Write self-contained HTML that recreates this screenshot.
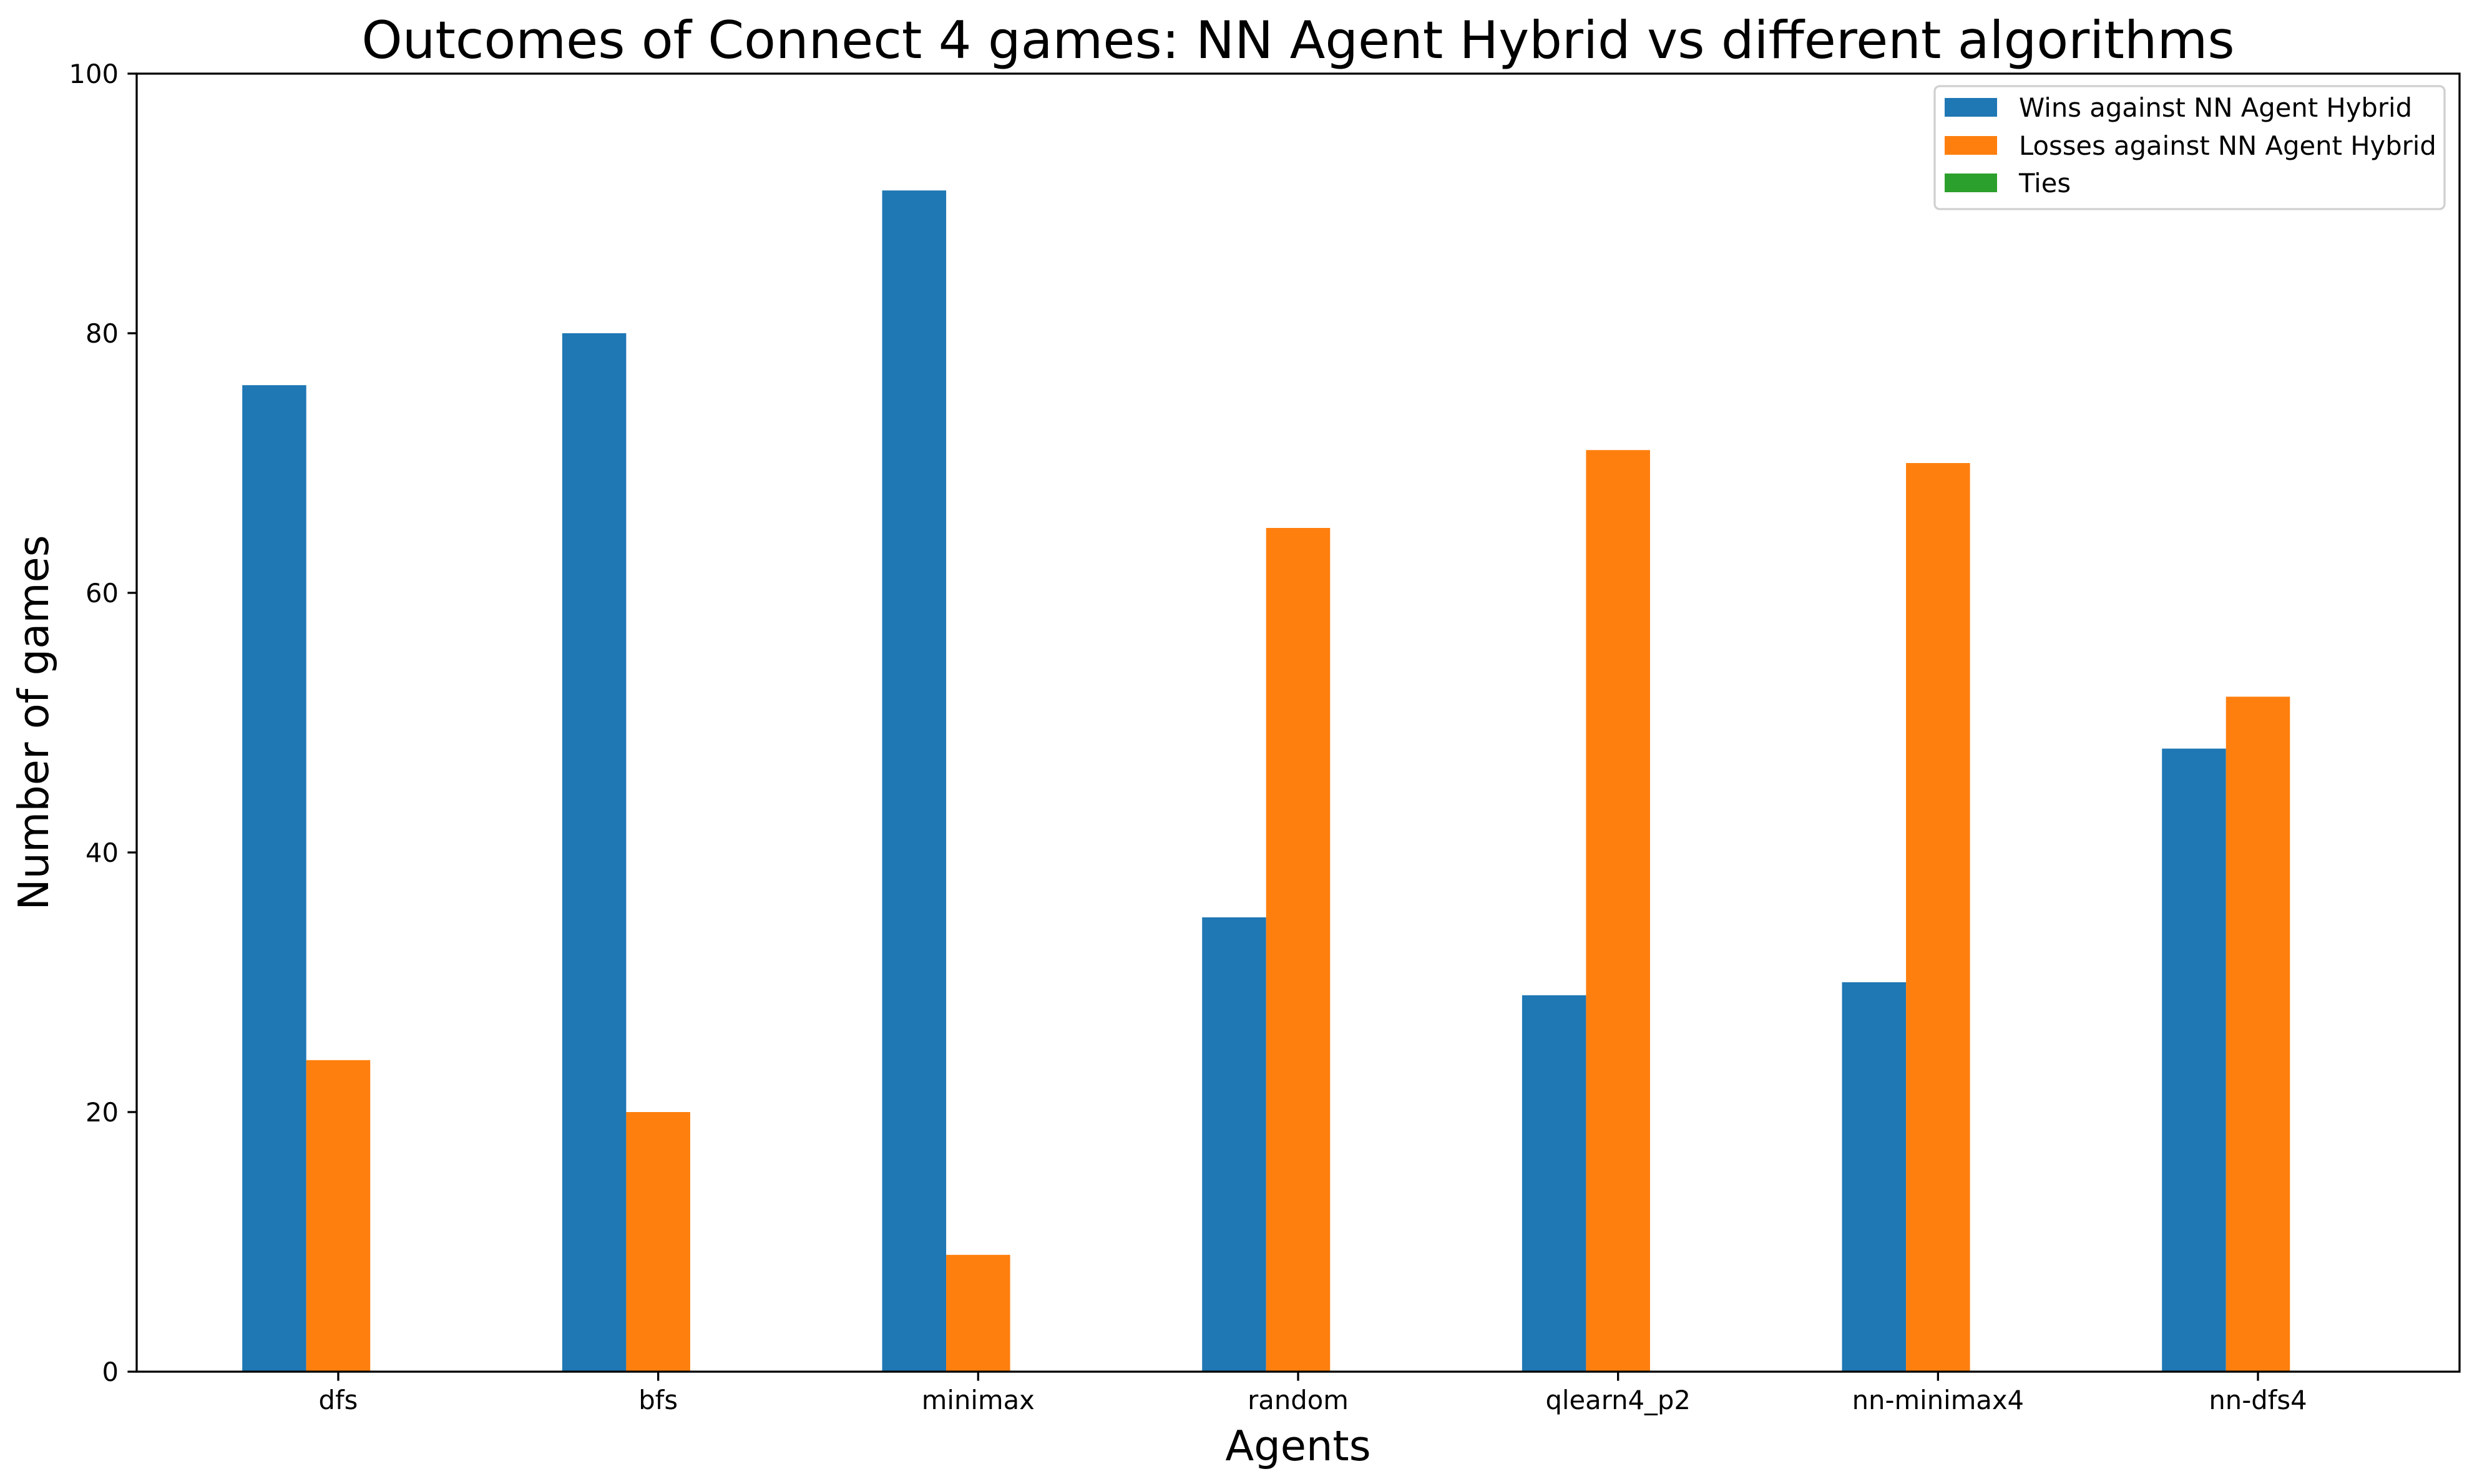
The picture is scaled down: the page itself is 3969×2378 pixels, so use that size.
<!DOCTYPE html>
<html>
<head>
<meta charset="utf-8">
<style>
  html, body { margin: 0; padding: 0; background: #fff; }
  svg { display: block; font-family: "DejaVu Sans", "Liberation Sans", sans-serif; }
</style>
</head>
<body>
<svg id="chart" width="3969" height="2378" viewBox="0 0 3969 2378" xmlns="http://www.w3.org/2000/svg">
  <rect x="0" y="0" width="3969" height="2378" fill="#ffffff"/>
  <text x="2080" y="93" font-size="83" text-anchor="middle" fill="#000">Outcomes of Connect 4 games: NN Agent Hybrid vs different algorithms</text>
  <g id="bars"></g>
  <g id="yticks"></g>
  <g id="xticks"></g>
  <rect x="219" y="118" width="3722" height="2080" fill="none" stroke="#000" stroke-width="3.3"/>
  <text x="2080" y="2340" font-size="67" text-anchor="middle" fill="#000">Agents</text>
  <text transform="translate(77,1158) rotate(-90)" font-size="67" text-anchor="middle" fill="#000">Number of games</text>
  <g>
    <rect x="3100" y="138" width="817" height="197" rx="8" fill="#fff" fill-opacity="0.8" stroke="#d0d0d0" stroke-width="3.3"/>
    <rect x="3116" y="157" width="84" height="30" fill="#1f77b4"/>
    <text x="3235" y="187" font-size="41.7" fill="#000">Wins against NN Agent Hybrid</text>
    <rect x="3116" y="218" width="84" height="30" fill="#ff7f0e"/>
    <text x="3235" y="248" font-size="41.7" fill="#000">Losses against NN Agent Hybrid</text>
    <rect x="3116" y="278" width="84" height="30" fill="#2ca02c"/>
    <text x="3235" y="308" font-size="41.7" fill="#000">Ties</text>
  </g>
</svg>
<script>
const categories = ["dfs", "bfs", "minimax", "random", "qlearn4_p2", "nn-minimax4", "nn-dfs4"];
const wins = [76, 80, 91, 35, 29, 30, 48];
const losses = [24, 20, 9, 65, 71, 70, 52];
const ties = [0, 0, 0, 0, 0, 0, 0];
const yTicks = [0, 20, 40, 60, 80, 100];

const NS = "http://www.w3.org/2000/svg";
const plotL = 219, plotR = 3941, plotT = 118, plotB = 2198;
const xMin = -0.63, xMax = categories.length - 1 + 0.63;
const yMin = 0, yMax = 100;
function xs(v) { return plotL + (v - xMin) / (xMax - xMin) * (plotR - plotL); }
function ys(v) { return plotB - (v - yMin) / (yMax - yMin) * (plotB - plotT); }
const barW = 0.2;

const barsG = document.getElementById('bars');
const series = [
  { vals: wins, off: -0.2, color: "#1f77b4", key: "wins" },
  { vals: losses, off: 0, color: "#ff7f0e", key: "losses" },
  { vals: ties, off: 0.2, color: "#2ca02c", key: "ties" }
];
series.forEach(s => {
  s.vals.forEach((v, i) => {
    const r = document.createElementNS(NS, 'rect');
    const x0 = xs(i + s.off - barW / 2), x1 = xs(i + s.off + barW / 2);
    r.setAttribute('x', x0);
    r.setAttribute('width', x1 - x0);
    r.setAttribute('y', ys(v));
    r.setAttribute('height', ys(0) - ys(v));
    r.setAttribute('fill', s.color);
    
    
    barsG.appendChild(r);
  });
});

const yG = document.getElementById('yticks');
yTicks.forEach(t => {
  const y = ys(t);
  const l = document.createElementNS(NS, 'line');
  l.setAttribute('x1', plotL - 14.6); l.setAttribute('x2', plotL);
  l.setAttribute('y1', y); l.setAttribute('y2', y);
  l.setAttribute('stroke', '#000'); l.setAttribute('stroke-width', '3.3');
  
  
  yG.appendChild(l);
  const tx = document.createElementNS(NS, 'text');
  tx.setAttribute('x', plotL - 29);
  tx.setAttribute('y', y + 15);
  tx.setAttribute('font-size', '41.7');
  tx.setAttribute('text-anchor', 'end');
  tx.textContent = t;
  
  
  yG.appendChild(tx);
});

const xG = document.getElementById('xticks');
categories.forEach((c, i) => {
  const x = xs(i);
  const l = document.createElementNS(NS, 'line');
  l.setAttribute('x1', x); l.setAttribute('x2', x);
  l.setAttribute('y1', plotB); l.setAttribute('y2', plotB + 14.6);
  l.setAttribute('stroke', '#000'); l.setAttribute('stroke-width', '3.3');
  
  
  xG.appendChild(l);
  const tx = document.createElementNS(NS, 'text');
  tx.setAttribute('x', x);
  tx.setAttribute('y', 2258);
  tx.setAttribute('font-size', '41.7');
  tx.setAttribute('text-anchor', 'middle');
  tx.textContent = c;
  
  
  xG.appendChild(tx);
});
</script>
</body>
</html>
